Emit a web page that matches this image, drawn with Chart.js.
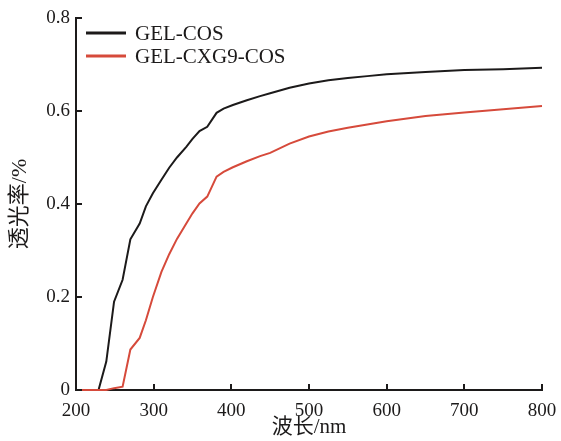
<!DOCTYPE html>
<html>
<head>
<meta charset="utf-8">
<script src="https://cdn.jsdelivr.net/npm/chart.js@4"></script>
<style>
  html, body { margin: 0; padding: 0; background: #fff; }
  #wrap { width: 561px; height: 441px; }
</style>
</head>
<body>
<div id="wrap"><canvas id="transChart" width="561" height="441"></canvas></div>
<script>
// longueurs d'onde (nm) et transmittance
const wavelengths = [200, 210, 220, 229, 239, 249, 260, 270, 282, 290, 299, 310, 320, 330, 342, 350, 359, 369, 381, 390, 402, 420, 437, 450, 475, 500, 525, 550, 575, 600, 650, 700, 750, 800];
const gelCos = [0, 0, 0, 0, 0.061, 0.19, 0.237, 0.324, 0.358, 0.395, 0.423, 0.452, 0.478, 0.5, 0.523, 0.54, 0.557, 0.566, 0.596, 0.605, 0.613, 0.623, 0.632, 0.638, 0.65, 0.659, 0.666, 0.671, 0.675, 0.679, 0.684, 0.688, 0.69, 0.693];
const gelCxg9Cos = [0, 0, 0, 0, 0, 0.004, 0.007, 0.087, 0.112, 0.15, 0.2, 0.254, 0.292, 0.325, 0.358, 0.38, 0.401, 0.416, 0.459, 0.469, 0.479, 0.492, 0.503, 0.51, 0.53, 0.545, 0.556, 0.564, 0.571, 0.578, 0.589, 0.597, 0.604, 0.611];
const seriesNames = ["GEL-COS", "GEL-CXG9-COS"];
const seriesColors = ["#1c1a1a", "#d64a3b"];
const xTicks = [200, 300, 400, 500, 600, 700, 800];
const yTicks = [0, 0.2, 0.4, 0.6, 0.8];

const serif = "'Liberation Serif', 'Times New Roman', 'Noto Sans CJK SC', serif";

function toPoints(vals) {
  return wavelengths.map((w, i) => ({ x: w, y: vals[i] }));
}

// petites graduations vers l'intérieur + légende dans la zone du graphique
const insideBits = {
  id: "insideBits",
  afterDraw(chart) {
    const ctx = chart.ctx;
    const xs = chart.scales.x, ys = chart.scales.y;
    const area = chart.chartArea;
    ctx.save();
    ctx.strokeStyle = "#1c1a1a";
    ctx.lineWidth = 2;
    xTicks.forEach((t) => {
      const px = Math.round(xs.getPixelForValue(t));
      ctx.beginPath();
      ctx.moveTo(px, area.bottom);
      ctx.lineTo(px, area.bottom - 6);
      ctx.stroke();
    });
    yTicks.forEach((t) => {
      const py = Math.round(ys.getPixelForValue(t));
      ctx.beginPath();
      ctx.moveTo(area.left, py);
      ctx.lineTo(area.left + 6, py);
      ctx.stroke();
    });
    // légende
    ctx.font = "21px " + serif;
    ctx.textBaseline = "middle";
    ctx.textAlign = "left";
    seriesNames.forEach((name, i) => {
      const y = area.top + 15 + i * 23;
      ctx.strokeStyle = seriesColors[i];
      ctx.lineWidth = 3;
      ctx.beginPath();
      ctx.moveTo(area.left + 10, y);
      ctx.lineTo(area.left + 50, y);
      ctx.stroke();
      ctx.fillStyle = "#1c1a1a";
      ctx.fillText(name, area.left + 59, y + 1);
    });
    ctx.restore();
  },
};

new Chart(document.getElementById("transChart"), {
  type: "line",
  data: {
    datasets: [
      {
        label: seriesNames[0],
        data: toPoints(gelCos),
        borderColor: seriesColors[0],
        borderWidth: 2,
        pointRadius: 0,
        tension: 0,
        clip: 4,
        order: 1,
      },
      {
        label: seriesNames[1],
        data: toPoints(gelCxg9Cos),
        borderColor: seriesColors[1],
        borderWidth: 2,
        pointRadius: 0,
        tension: 0,
        clip: 4,
        order: 0,
      },
    ],
  },
  options: {
    responsive: false,
    animation: false,
    layout: { padding: { top: 18, right: 19, bottom: 0, left: 0 } },
    plugins: { legend: { display: false }, tooltip: { enabled: false } },
    scales: {
      x: {
        type: "linear",
        min: 200,
        max: 800,
        afterBuildTicks: (scale) => { scale.ticks = xTicks.map((v) => ({ value: v })); },
        afterFit: (scale) => {
          scale.height = 51;
          scale.paddingLeft = 0;
          scale.paddingRight = 0;
        },
        grid: { display: false, drawTicks: false },
        border: { display: true, color: "#1c1a1a", width: 2 },
        ticks: { color: "#1c1a1a", font: { family: serif, size: 19 }, padding: 10, maxRotation: 0 },
        title: { display: true, text: "波长/nm", color: "#1c1a1a", font: { family: serif, size: 21 }, padding: { top: 0, bottom: 1 } },
      },
      y: {
        min: 0,
        max: 0.8,
        afterBuildTicks: (scale) => { scale.ticks = yTicks.map((v) => ({ value: v })); },
        afterFit: (scale) => { scale.width = 76; },
        grid: { display: false, drawTicks: false },
        border: { display: true, color: "#1c1a1a", width: 2 },
        ticks: {
          color: "#1c1a1a",
          font: { family: serif, size: 19 },
          padding: 6,
          callback: (v) => (v === 0 ? "0" : v.toFixed(1)),
        },
        title: { display: true, text: "透光率/%", color: "#1c1a1a", font: { family: serif, size: 22 }, padding: { top: 7, bottom: 0 } },
      },
    },
  },
  plugins: [insideBits],
});
</script>
</body>
</html>
